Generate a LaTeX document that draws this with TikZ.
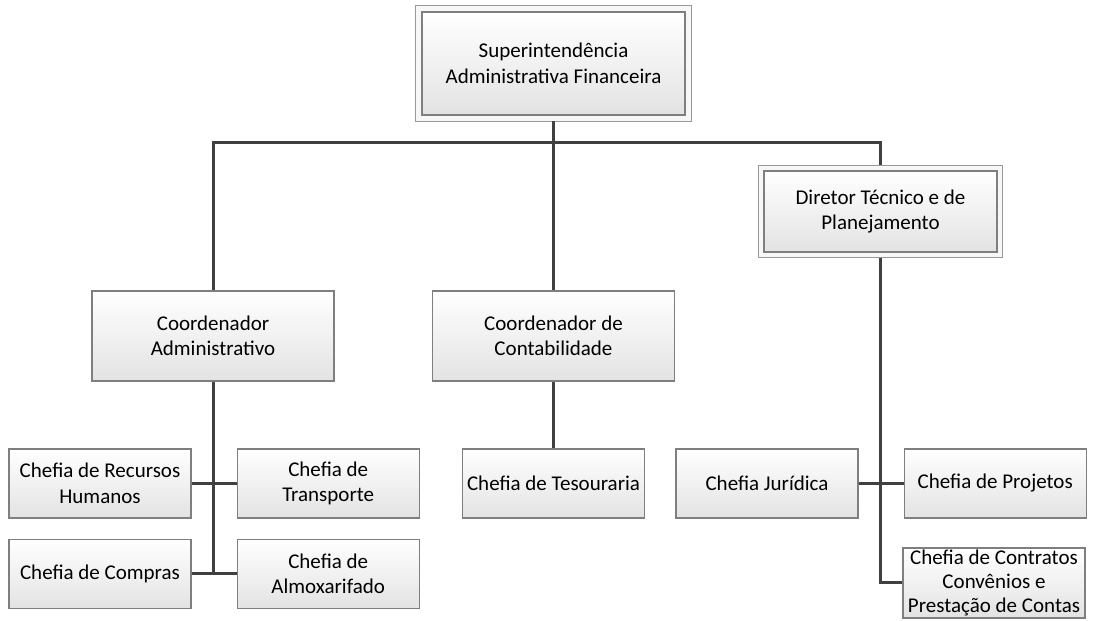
\documentclass[tikz,border=0pt]{standalone}
\usepackage{fontspec}
\setmainfont{Carlito}
\usetikzlibrary{positioning,backgrounds}
\definecolor{OrgLine}{HTML}{404040}
\definecolor{OrgEdge}{HTML}{7F7F7F}
\tikzset{
  orgbox/.style={draw=OrgEdge,line width=1.2pt,top color=white,bottom color=black!11,
    align=center,inner sep=0pt,font=\fontsize{21}{25.5}\selectfont},
  chefbox/.style={orgbox,minimum width=182pt,minimum height=69pt},
  conn/.style={draw=OrgLine,line width=3pt}
}

\begin{document}
\begin{tikzpicture}[x=1pt,y=1pt]
  \useasboundingbox (0,0) rectangle (1093,621);
  % top level
  \node[orgbox,minimum width=263pt,minimum height=103pt] (sup) at (553.5,557.5) {Superintendência\\Administrativa Financeira};
  \node[orgbox,minimum width=233pt,minimum height=81pt] (dir) at (880.5,409.5) {Diretor Técnico e de\\Planejamento};
  \node[orgbox,minimum width=242pt,minimum height=90pt] (cadm) at (213,285) {Coordenador\\Administrativo};
  \node[orgbox,minimum width=242pt,minimum height=90pt] (ccont) at (553.5,285) {Coordenador de\\Contabilidade};
  % chefias
  \node[chefbox] (rh) at (100,137.5) {Chefia de Recursos\\Humanos};
  \node[chefbox,right=45pt of rh] (transp) {Chefia de\\Transporte};
  \node[chefbox] (compras) at (100,47) {Chefia de Compras};
  \node[chefbox,right=45pt of compras] (almox) {Chefia de\\Almoxarifado};
  \node[chefbox] (tes) at (553.5,137.5) {Chefia de Tesouraria};
  \node[chefbox] (jur) at (767,137.5) {Chefia Jurídica};
  \node[chefbox,right=45pt of jur] (proj) {Chefia de Projetos};
  \node[chefbox,minimum height=70pt,font=\fontsize{21}{24}\selectfont] (contr) at (994,38) {Chefia de Contratos\\Convênios e\\Prestação de Contas};
  % double frames
  \begin{scope}[on background layer]
    \draw[draw=black!40,line width=1pt,fill=black!3] ([shift={(-6pt,-5.5pt)}]sup.south west) rectangle ([shift={(5.5pt,5.5pt)}]sup.north east);
    \draw[draw=black!40,line width=1pt,fill=black!3] ([shift={(-5pt,-5pt)}]dir.south west) rectangle ([shift={(5pt,5pt)}]dir.north east);
  \end{scope}
  % connectors
  \coordinate (bar) at (553.5,478);
  \draw[conn] ([yshift=-5.5pt]sup.south) -- (bar);
  \draw[conn] (cadm.north) |- (bar) -| ([yshift=5pt]dir.north);
  \draw[conn] (bar) -- (ccont.north);
  \draw[conn] (cadm.south) -- (cadm.south |- compras.east);
  \draw[conn] (rh.east) -- (transp.west);
  \draw[conn] (compras.east) -- (almox.west);
  \draw[conn] (ccont.south) -- (tes.north);
  \draw[conn] ([yshift=-5pt]dir.south) |- (contr.west);
  \draw[conn] (jur.east) -- (proj.west);
\end{tikzpicture}
\end{document}
